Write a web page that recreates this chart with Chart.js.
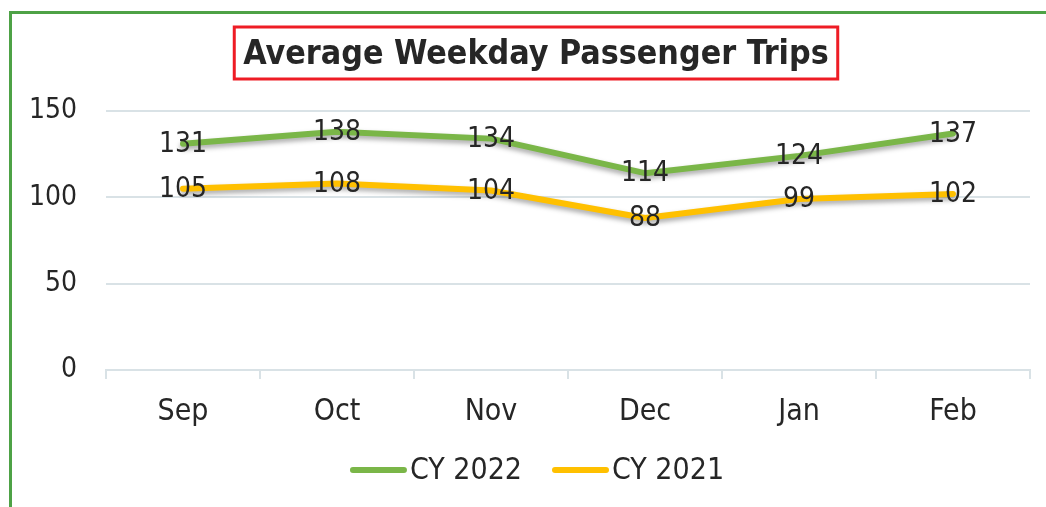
<!DOCTYPE html>
<html>
<head>
<meta charset="utf-8">
<script src="https://cdn.jsdelivr.net/npm/chart.js@4"></script>
<style>
  html, body { margin: 0; padding: 0; background: #fff; }
  #wrap { position: relative; width: 1046px; height: 507px; overflow: hidden; }
  #frame { position: absolute; left: 9px; top: 11px; width: 1100px; height: 600px;
           border-left: 3px solid #4ea246; border-top: 3px solid #4ea246; }
  canvas { position: absolute; left: 0; top: 0; }
</style>
</head>
<body>
<div id="wrap">
  <div id="frame"></div>
  <canvas id="myChart" width="1046" height="507"></canvas>
</div>
<script>
const months = [ 'Sep', 'Oct', 'Nov', 'Dec', 'Jan', 'Feb' ];
const cy2022 = [ 131, 138, 134, 114, 124, 137 ];
const cy2021 = [ 105, 108, 104, 88, 99, 102 ];
const yTicks = [ 0, 50, 100, 150 ];

const FONT = "'DejaVu Sans Condensed', 'DejaVu Sans', sans-serif";
const TEXT = '#262626';
const GRID = '#d9e2e6';

// title with the red box around it
const titleBox = {
  id: 'titleBox',
  afterDraw( chart ) {
    const ctx = chart.ctx;
    const text = 'Average Weekday Passenger Trips';
    ctx.save();
    ctx.font = 'bold 33.7px ' + FONT;
    ctx.fillStyle = TEXT;
    ctx.textAlign = 'center';
    ctx.textBaseline = 'middle';
    const cx = 536, cy = 55;
    ctx.fillText( text, cx, cy );
    const w = ctx.measureText( text ).width;
    ctx.strokeStyle = '#ee1c25';
    ctx.lineWidth = 3;
    ctx.strokeRect( cx - w / 2 - 9, 27, w + 18, 52 );
    ctx.restore();
  }
};

// line shadows
const shadow = {
  id: 'shadow',
  beforeDatasetDraw( chart ) {
    const ctx = chart.ctx;
    ctx.save();
    ctx.shadowColor = 'rgba(0,0,0,0.35)';
    ctx.shadowBlur = 5;
    ctx.shadowOffsetY = 3;
  },
  afterDatasetDraw( chart ) {
    chart.ctx.restore();
  }
};

// value labels centred on the points
const valueLabels = {
  id: 'valueLabels',
  afterDatasetsDraw( chart ) {
    const ctx = chart.ctx;
    ctx.save();
    ctx.font = '28px ' + FONT;
    ctx.fillStyle = TEXT;
    ctx.textAlign = 'center';
    ctx.textBaseline = 'middle';
    chart.data.datasets.forEach( ( ds, i ) => {
      chart.getDatasetMeta( i ).data.forEach( ( pt, j ) => {
        ctx.fillText( ds.data[ j ], pt.x, pt.y + 1 );
      } );
    } );
    ctx.restore();
  }
};

// legend: short line then label, Excel style
const lineLegend = {
  id: 'lineLegend',
  afterDraw( chart ) {
    const ctx = chart.ctx;
    ctx.save();
    ctx.font = '30px ' + FONT;
    ctx.textBaseline = 'middle';
    const y = 470;
    const lineW = 57, gap = 3, between = 30;
    const items = chart.data.datasets.map( ds => ( { ds, w: lineW + gap + ctx.measureText( ds.label ).width } ) );
    const total = items.reduce( ( s, it ) => s + it.w, 0 ) + between * ( items.length - 1 );
    let x = 537 - total / 2;
    items.forEach( it => {
      ctx.strokeStyle = it.ds.borderColor;
      ctx.lineWidth = 6;
      ctx.lineCap = 'round';
      ctx.beginPath();
      ctx.moveTo( x + 3, y );
      ctx.lineTo( x + lineW - 3, y );
      ctx.stroke();
      ctx.fillStyle = TEXT;
      ctx.fillText( it.ds.label, x + lineW + gap, y + 1 );
      x += it.w + between;
    } );
    ctx.restore();
  }
};

const ctx = document.getElementById( 'myChart' ).getContext( '2d' );
const myChart = new Chart( ctx, {
  type: 'line',
  data: {
    labels: months,
    datasets: [ {
      label: 'CY 2022',
      data: cy2022,
      borderColor: '#7ab648',
      backgroundColor: '#7ab648',
    }, {
      label: 'CY 2021',
      data: cy2021,
      borderColor: '#ffc000',
      backgroundColor: '#ffc000',
    } ]
  },
  options: {
    responsive: false,
    animation: false,
    clip: false,
    layout: { padding: { top: 111, right: 16, left: 0, bottom: 0 } },
    elements: {
      line: { borderWidth: 6, tension: 0, borderCapStyle: 'round', borderJoinStyle: 'round' },
      point: { radius: 0, hoverRadius: 0 }
    },
    plugins: {
      legend: { display: false },
      title: { display: false },
      tooltip: { enabled: false }
    },
    scales: {
      x: {
        offset: true,
        grid: { offset: true, drawOnChartArea: false, drawTicks: true, tickLength: 9, color: GRID, lineWidth: 2 },
        border: { display: true, color: GRID, width: 2 },
        ticks: { color: TEXT, font: { family: FONT, size: 30 }, padding: 15 },
        afterFit: s => { s.height = 137; }
      },
      y: {
        min: 0,
        max: 150,
        afterBuildTicks: s => { s.ticks = yTicks.map( v => ( { value: v } ) ); },
        grid: { drawTicks: false, color: GRID, lineWidth: 2 },
        border: { display: false },
        ticks: { color: TEXT, font: { family: FONT, size: 28 }, padding: 29 },
        afterFit: s => { s.width = 106; }
      }
    }
  },
  plugins: [ titleBox, shadow, valueLabels, lineLegend ]
} );
</script>
</body>
</html>
